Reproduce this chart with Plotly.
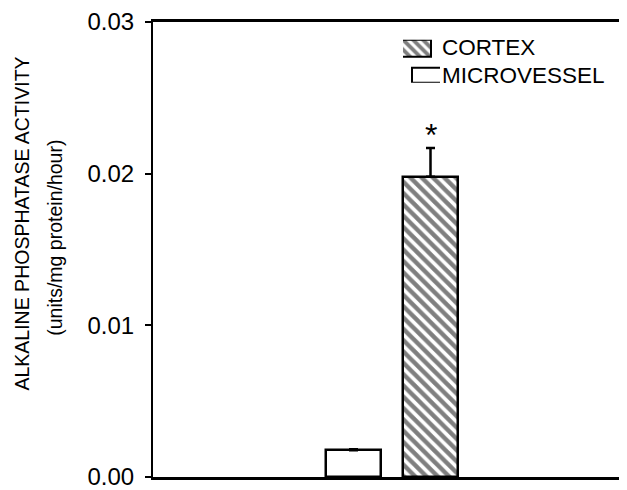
import plotly.graph_objects as go

# ---- data ----
categories = ["MICROVESSEL", "CORTEX"]
positions = [1, 2]
values = [0.00175, 0.0198]
errors = [0.0001, 0.0019]
significance = ["", "*"]
y_tickvals = [0.00, 0.01, 0.02, 0.03]
y_ticktext = ["0.00", "0.01", "0.02", "0.03"]

FONT = "Liberation Sans"
BODY = 8  # default page margin of the html body
W, H = 627 - BODY, 490 - BODY
PL, PT, PR, PB = 153, 20, 627, 484   # plot area in page pixels
PW, PH = PR - PL, PB - PT

def px_x(p):
    return (p - PL) / PW

def px_y(p):
    return (PB - p) / PH

fig = go.Figure()

# microvessel bar
fig.add_trace(go.Bar(
    x=[positions[0]], y=[values[0]], width=0.714,
    marker=dict(color="white", line=dict(color="black", width=2.5)),
    error_y=dict(type="data", array=[errors[0]], arrayminus=[0], symmetric=False,
                 color="black", thickness=2, width=4.5),
    name=categories[0], showlegend=False,
))
# cortex bar
fig.add_trace(go.Bar(
    x=[positions[1]], y=[values[1]], width=0.714,
    marker=dict(color="white", line=dict(color="black", width=2.5),
                pattern=dict(shape="\\", fgcolor="black", bgcolor="white", size=8, solidity=0.55)),
    error_y=dict(type="data", array=[errors[1]], arrayminus=[0], symmetric=False,
                 color="black", thickness=2.5, width=4.5),
    name=categories[1], showlegend=False,
))

# legend swatches on an overlay axis
fig.add_trace(go.Bar(
    x=[0.5], y=[17], base=[27], width=[1], xaxis="x2", yaxis="y2",
    marker=dict(color="white", line=dict(color="black", width=2),
                pattern=dict(shape="\\", fgcolor="black", bgcolor="white", size=7, solidity=0.55)),
    showlegend=False, hoverinfo="skip",
))
fig.add_trace(go.Bar(
    x=[0.5], y=[15], base=[0], width=[1], xaxis="x2", yaxis="y2",
    marker=dict(color="white", line=dict(color="black", width=2)),
    showlegend=False, hoverinfo="skip",
))

annotations = []
# significance marks
for xp, v, e, s in zip(positions, values, errors, significance):
    if s:
        annotations.append(dict(x=xp, y=v + e, xref="x", yref="y", text=s, showarrow=False,
                                yanchor="bottom", yshift=-7,
                                font=dict(family=FONT, size=32, color="black")))
# legend texts
annotations.append(dict(x=px_x(441), y=px_y(46.5), xref="paper", yref="paper", text=categories[1],
                        showarrow=False, xanchor="left", yanchor="middle", xshift=-1,
                        font=dict(family=FONT, size=22.5, color="black")))
annotations.append(dict(x=px_x(441), y=px_y(75), xref="paper", yref="paper", text=categories[0],
                        showarrow=False, xanchor="left", yanchor="middle", xshift=-1,
                        font=dict(family=FONT, size=22.5, color="black")))
# y-axis title (two lines)
annotations.append(dict(x=px_x(22), y=px_y(225.5), xref="paper", yref="paper",
                        text="ALKALINE PHOSPHATASE ACTIVITY", textangle=-90, showarrow=False,
                        xanchor="center", yanchor="middle",
                        font=dict(family=FONT, size=19.5, color="black")))
annotations.append(dict(x=px_x(55), y=px_y(240), xref="paper", yref="paper",
                        text="(units/mg protein/hour)", textangle=-90, showarrow=False,
                        xanchor="center", yanchor="middle",
                        font=dict(family=FONT, size=19.5, color="black")))

fig.update_layout(
    width=W, height=H,
    margin=dict(l=PL - BODY, r=W - (PR - BODY), t=PT - BODY, b=H - (PB - BODY), pad=0),
    paper_bgcolor="white", plot_bgcolor="white",
    font=dict(family=FONT, color="black"),
    showlegend=False,
    bargap=0,
    annotations=annotations,
    xaxis=dict(range=[-1.604, 4.552], showgrid=False, zeroline=False, showticklabels=False,
               ticks="", showline=True, mirror=True, linecolor="black", linewidth=2.5),
    yaxis=dict(range=[0, 0.03], tickvals=y_tickvals, ticktext=y_ticktext, showgrid=False,
               zeroline=False, ticks="outside", ticklen=6, tickwidth=2, tickcolor="black",
               showline=True, linecolor="black", linewidth=2,
               tickfont=dict(family=FONT, size=24, color="black"), ticklabelstandoff=6,
               ticklabeloverflow="allow"),
    xaxis2=dict(domain=[px_x(403), px_x(440)], range=[0, 1], visible=False, anchor="y2"),
    yaxis2=dict(domain=[px_y(82), px_y(38)], range=[0, 44], visible=False, anchor="x2"),
)

fig.write_html("out.html")
